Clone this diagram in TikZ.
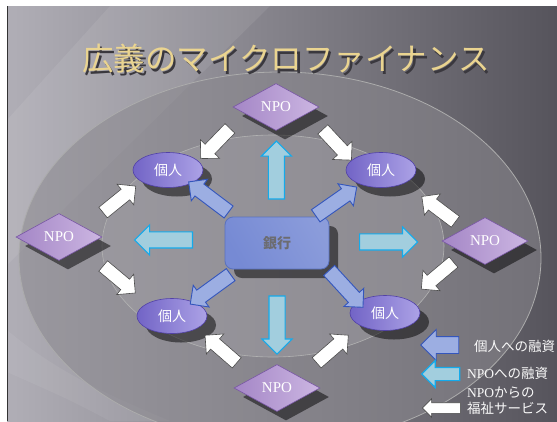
\documentclass[tikz,border=0pt]{standalone}
\usepackage{fontspec}
\setmainfont{Liberation Serif}
\newfontfamily\jp{Noto Sans CJK JP}
\usetikzlibrary{shapes.geometric, shapes.arrows, shadows, positioning}

\definecolor{slideL}{RGB}{176,174,182}
\definecolor{slideR}{RGB}{86,84,92}
\definecolor{ringO}{RGB}{138,136,142}
\definecolor{ringI}{RGB}{162,160,166}
\definecolor{npoA}{RGB}{164,134,198}
\definecolor{npoB}{RGB}{204,182,226}
\definecolor{npoEdge}{RGB}{120,86,164}
\definecolor{kojinA}{RGB}{114,100,198}
\definecolor{kojinB}{RGB}{172,162,230}
\definecolor{kojinEdge}{RGB}{82,66,168}
\definecolor{bankA}{RGB}{118,138,212}
\definecolor{bankB}{RGB}{174,186,238}
\definecolor{bankEdge}{RGB}{90,114,190}
\definecolor{bankText}{RGB}{108,108,112}
\definecolor{loanFill}{RGB}{156,174,226}
\definecolor{loanEdge}{RGB}{52,86,188}
\definecolor{fundFill}{RGB}{162,206,222}
\definecolor{fundEdge}{RGB}{20,170,235}
\definecolor{titleGold}{RGB}{234,212,144}
\definecolor{titleShade}{RGB}{58,56,62}

\newcommand{\shadedtitle}[1]{%
  \makebox[0pt][l]{\hspace{2.5pt}\raisebox{-2.5pt}{\color{titleShade}#1}}#1}

\tikzset{
  npo/.style={diamond, draw=npoEdge, line width=.6pt, left color=npoA, right color=npoB,
    minimum width=86pt, minimum height=47pt, inner sep=0pt, text=white,
    font=\fontsize{15}{15}\selectfont,
    drop shadow={shadow xshift=9pt, shadow yshift=-9pt, opacity=.5, fill=black}},
  kojin/.style={ellipse, draw=kojinEdge, line width=.6pt, left color=kojinA, right color=kojinB,
    minimum width=70pt, minimum height=35pt, inner sep=0pt, text=white,
    font=\jp\fontsize{14}{14}\selectfont,
    drop shadow={shadow xshift=9pt, shadow yshift=-9pt, opacity=.5, fill=black}},
  bankbox/.style={rectangle, rounded corners=8pt, draw=bankEdge, line width=.8pt,
    left color=bankA, middle color=bankB, right color=bankA!85!white, shading angle=120,
    minimum width=104pt, minimum height=52pt, text=bankText,
    font=\jp\bfseries\fontsize{14}{14}\selectfont,
    drop shadow={shadow xshift=9pt, shadow yshift=-9pt, opacity=.5, fill=black}},
  loan/.style={single arrow, draw=loanEdge, fill=loanFill, line width=.9pt,
    inner xsep=0pt, inner ysep=7pt, single arrow head extend=6pt,
    single arrow head indent=0pt, minimum height=50pt},
  fund/.style={single arrow, draw=fundEdge, fill=fundFill, line width=1.1pt,
    inner xsep=0pt, inner ysep=7.5pt, single arrow head extend=7pt,
    single arrow head indent=0pt, minimum height=58pt},
  serv/.style={single arrow, draw=gray!60!black, fill=white, line width=.6pt,
    inner xsep=0pt, inner ysep=6.5pt, single arrow head extend=6.5pt,
    single arrow head indent=0pt, minimum height=42pt},
  legend/.style={text=white!95!gray, font=\fontsize{13.5}{16}\selectfont, inner sep=0pt}
}

\begin{document}
\begin{tikzpicture}[x=1pt, y=-1pt]
  \useasboundingbox (0,0) rectangle (557,421);

  % slide background and the two rings
  \begin{scope}
    \clip (7,6) rectangle (557,421);
    \shade[left color=slideL, right color=slideR] (7,6) rectangle (557,421);
    \fill[white, opacity=.08] (110,6) -- (270,6) -- (7,265) -- (7,120) -- cycle;
    \fill[white, opacity=.06] (7,330) .. controls (60,375) and (120,400) .. (170,421)
      -- (110,421) .. controls (70,400) .. (7,372) -- cycle;
    \filldraw[fill=ringO, fill opacity=.55, draw=gray!65, line width=.8pt]
      (280,258) ellipse [x radius=261, y radius=186];
    \filldraw[fill=ringI, fill opacity=.45, draw=gray!60, line width=.6pt]
      (273,246) ellipse [x radius=171, y radius=111];
  \end{scope}
  \draw[line width=1.5pt, gray!40!black] (7.5,6) -- (7.5,421);

  % title
  \node[text=titleGold, font=\jp\fontsize{31.5}{32}\selectfont] (title)
    at (286,60) {\shadedtitle{広義のマイクロファイナンス}};

  % NPOs, individuals and the bank
  \node[npo] (npoT) at (276,107) {NPO};
  \node[npo] (npoL) at (59,237) {NPO};
  \node[npo] (npoR) at (485,241) {NPO};
  \node[npo] (npoB) at (277,388) {NPO};

  \node[kojin] (kTL) at (168,170) {個人};
  \node[kojin] (kTR) at (381,170) {個人};
  \node[kojin] (kBL) at (172,316) {個人};
  \node[kojin] (kBR) at (385,313) {個人};

  \node[bankbox] (bank) at (277,243) {銀行};

  % loans to individuals
  \foreach \k/\p/\r in {kTL/.60/143, kTR/.54/35, kBL/.605/216, kBR/.616/-47.5}
    \path (bank.center) -- node[loan, pos=\p, rotate=\r] (loan-\k) {} (\k.center);

  % loans to NPOs
  \foreach \n/\p/\r in {npoT/.507/90, npoB/.538/-90, npoL/.502/180, npoR/.517/0}
    \path (bank.center) -- node[fund, pos=\p, rotate=\r] (fund-\n) {} (\n.center);

  % welfare services from NPOs
  \foreach \n/\k/\p/\r in {npoT/kTL/.54/226, npoT/kTR/.56/-47, npoL/kTL/.53/39,
      npoL/kBL/.51/-40, npoR/kTR/.42/143, npoR/kBR/.45/220,
      npoB/kBL/.51/139, npoB/kBR/.49/41}
    \path (\n.center) -- node[serv, pos=\p, rotate=\r] (serv-\n-\k) {} (\k.center);

  % legend
  \node[loan, rotate=180, minimum height=38pt, inner ysep=8pt, single arrow head extend=7pt]
    (keyLoan) at (444,345) {};
  \node[fund, rotate=180, minimum height=38pt, inner ysep=6pt, single arrow head extend=7pt]
    (keyFund) at (444,374) {};
  \node[serv, rotate=180, minimum height=38pt, inner ysep=5pt, single arrow head extend=4pt]
    (keyServ) at (444,408) {};
  \node[legend, anchor=west] (keyLoanText) at (474,346) {\jp 個人への融資};
  \node[legend, anchor=west] (keyFundText) at (467,373) {NPO{\jp への融資}};
  \node[legend, anchor=west, align=left] (keyServText) at (467,401)
    {NPO{\jp からの}\\{\jp 福祉サービス}};
\end{tikzpicture}
\end{document}
